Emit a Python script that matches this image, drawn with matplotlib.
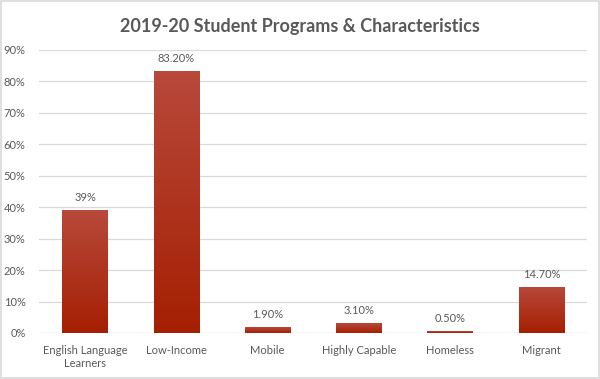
import numpy as np
import matplotlib
matplotlib.use("Agg")
import matplotlib.pyplot as plt
from matplotlib.colors import LinearSegmentedColormap
from matplotlib.patches import Rectangle

# data
categories = ["English Language\nLearners", "Low-Income", "Mobile", "Highly Capable", "Homeless", "Migrant"]
values = [39, 83.2, 1.9, 3.1, 0.5, 14.7]
value_labels = ["39%", "83.20%", "1.90%", "3.10%", "0.50%", "14.70%"]
yticks = [0, 10, 20, 30, 40, 50, 60, 70, 80, 90]

plt.rcParams['font.family'] = ['Lato', 'DejaVu Sans']
text_col = "#595959"

fig = plt.figure(figsize=(6, 3.79), dpi=100)
ax = fig.add_axes([0.0657, 0.1214, 0.9127, 0.7467])

x = np.arange(len(categories))
bars = ax.bar(x, values, width=0.5, color="#a82a12", zorder=2)

# vertical gradient in each bar
cmap = LinearSegmentedColormap.from_list("red_grad", ["#a51f02", "#b8493b"])
grad = np.linspace(0, 1, 256).reshape(-1, 1)
for b in bars:
    x0, w, h = b.get_x(), b.get_width(), b.get_height()
    im = ax.imshow(grad, cmap=cmap, aspect="auto", origin="lower",
                   extent=[x0, x0 + w, 0, h], zorder=3)
    im.set_clip_path(b)

for xi, v, lab in zip(x, values, value_labels):
    ax.text(xi, v + 2.2, lab, ha="center", va="bottom", fontsize=8, color=text_col)

ax.set_xlim(-0.5, len(categories) - 0.5)
ax.set_ylim(0, 90)
ax.set_yticks(yticks)
ax.set_yticklabels([f"{t}%" for t in yticks])
ax.set_xticks(x)
ax.set_xticklabels(categories)
ax.tick_params(length=0, labelsize=8, colors=text_col)
ax.tick_params(axis="x", pad=9)
ax.tick_params(axis="y", pad=10)
ax.grid(axis="y", color="#d9d9d9", linewidth=0.9, zorder=0)
for s in ax.spines.values():
    s.set_visible(False)
ax.axhline(0, color="#d9d9d9", linewidth=0.9, zorder=1)

fig.text(0.5, 0.93, "2019-20 Student Programs & Characteristics", ha="center", va="center",
         fontsize=13, fontweight="bold", color=text_col)

fig.patches.append(Rectangle((0.002, 0.003), 0.996, 0.994, transform=fig.transFigure,
                             fill=False, edgecolor="#d9d9d9", linewidth=1.2))

fig.savefig("out.png", dpi=100)
